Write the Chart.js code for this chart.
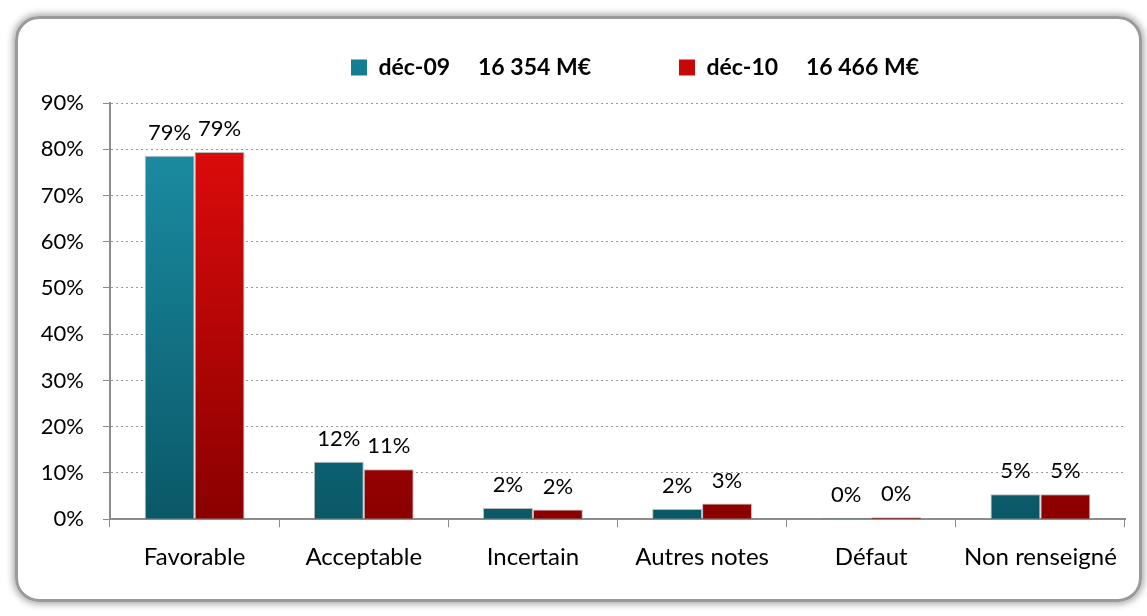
<!DOCTYPE html>
<html>
<head>
<meta charset="utf-8">
<script src="https://cdn.jsdelivr.net/npm/chart.js@4/dist/chart.umd.min.js"></script>
<style>
  html, body { margin: 0; padding: 0; background: #fff; }
  #frame {
    position: absolute; left: 15px; top: 16px; width: 1121px; height: 580px;
    border: 3px solid #9a9a9a; border-radius: 24px;
    box-shadow: 0 0 7px 2px rgba(0,0,0,0.35);
  }
  #wrap { position: absolute; left: 0; top: 0; width: 1147px; height: 616px; }
</style>
</head>
<body>
<div id="frame"></div>
<div id="wrap"><canvas id="chart" width="1147" height="616"></canvas></div>
<script>
const categories = ['Favorable', 'Acceptable', 'Incertain', 'Autres notes', 'Défaut', 'Non renseigné']
const seriesNames = ['déc-09     16 354 M€', 'déc-10     16 466 M€']
const dec09 = [78.6, 12.4, 2.4, 2.2, 0.2, 5.4]
const dec10 = [79.4, 10.8, 2.1, 3.4, 0.4, 5.4]
const yTicks = [0, 10, 20, 30, 40, 50, 60, 70, 80, 90]

const FONT = 'Lato, "DejaVu Sans", sans-serif'
const LEGEND_H = 103
const LEGEND_PAD = 88

function grad (ctx, top, bottom) {
  const area = ctx.chart.chartArea
  if (!area) return top
  const g = ctx.chart.ctx.createLinearGradient(0, area.top, 0, area.bottom)
  g.addColorStop(0, top)
  g.addColorStop(1, bottom)
  return g
}

// value labels above each bar + legend placement
const valueLabels = {
  id: 'valueLabels',
  beforeLayout (chart) {
    const lg = chart.legend
    if (lg && !lg._wrapped) {
      const fit = lg.fit.bind(lg)
      lg.fit = function () { fit(); this.height = LEGEND_H }
      lg._wrapped = true
    }
  },
  afterLayout (chart) {
    const lg = chart.legend
    const w = lg.right - lg.left
    lg.left = 351 - LEGEND_PAD
    lg.right = lg.left + w
    lg.top = 68 - LEGEND_PAD - 12
  },
  afterDatasetsDraw (chart) {
    const c = chart.ctx
    c.save()
    c.font = '22px ' + FONT
    c.fillStyle = '#000'
    c.textAlign = 'center'
    c.textBaseline = 'bottom'
    chart.data.datasets.forEach((ds, i) => {
      chart.getDatasetMeta(i).data.forEach((bar, j) => {
        c.fillText(Math.round(ds.data[j]) + '%', bar.x, bar.y - 12)
      })
    })
    c.restore()
  }
}

new Chart('chart', {
  type: 'bar',
  data: {
    labels: categories,
    datasets: [{
      label: seriesNames[0],
      data: dec09,
      backgroundColor: ctx => grad(ctx, '#1d92a9', '#0a5867'),
      borderColor: 'rgba(60,60,60,0.35)',
      borderWidth: 1,
      categoryPercentage: 0.59,
      barPercentage: 1
    }, {
      label: seriesNames[1],
      data: dec10,
      backgroundColor: ctx => grad(ctx, '#e60c0c', '#8a0000'),
      borderColor: 'rgba(60,60,60,0.35)',
      borderWidth: 1,
      categoryPercentage: 0.59,
      barPercentage: 1
    }]
  },
  options: {
    responsive: false,
    animation: false,
    layout: { padding: { left: 0, right: 22, top: 0, bottom: 28 } },
    plugins: {
      tooltip: { enabled: false },
      legend: {
        position: 'top',
        align: 'start',
        labels: {
          font: { family: FONT, size: 23, weight: 'bold' },
          color: '#000',
          boxWidth: 16,
          boxHeight: 16,
          padding: LEGEND_PAD,
          generateLabels: chart => chart.data.datasets.map((ds, i) => ({
            text: ds.label,
            fillStyle: i === 0 ? '#137d92' : '#c80808',
            strokeStyle: i === 0 ? '#137d92' : '#c80808',
            lineWidth: 0,
            datasetIndex: i
          }))
        }
      }
    },
    scales: {
      x: {
        grid: { display: true, drawOnChartArea: false, offset: true, color: '#8c8c8c', tickLength: 8 },
        border: { color: '#8c8c8c', width: 2 },
        ticks: { font: { family: FONT, size: 24 }, color: '#000', padding: 16 }
      },
      y: {
        min: 0,
        max: 90,
        afterFit: s => { s.width = 110 },
        afterBuildTicks: s => { s.ticks = yTicks.map(v => ({ value: v })) },
        grid: {
          color: '#9a9a9a',
          tickLength: 7,
          tickColor: '#8c8c8c',
          tickBorderDash: [],
          borderDash: [2, 3]
        },
        border: { color: '#8c8c8c', width: 2, dash: [2, 3] },
        ticks: {
          font: { family: FONT, size: 22 },
          color: '#000',
          padding: 19,
          callback: v => v + '%'
        }
      }
    }
  },
  plugins: [valueLabels]
})
</script>
</body>
</html>
